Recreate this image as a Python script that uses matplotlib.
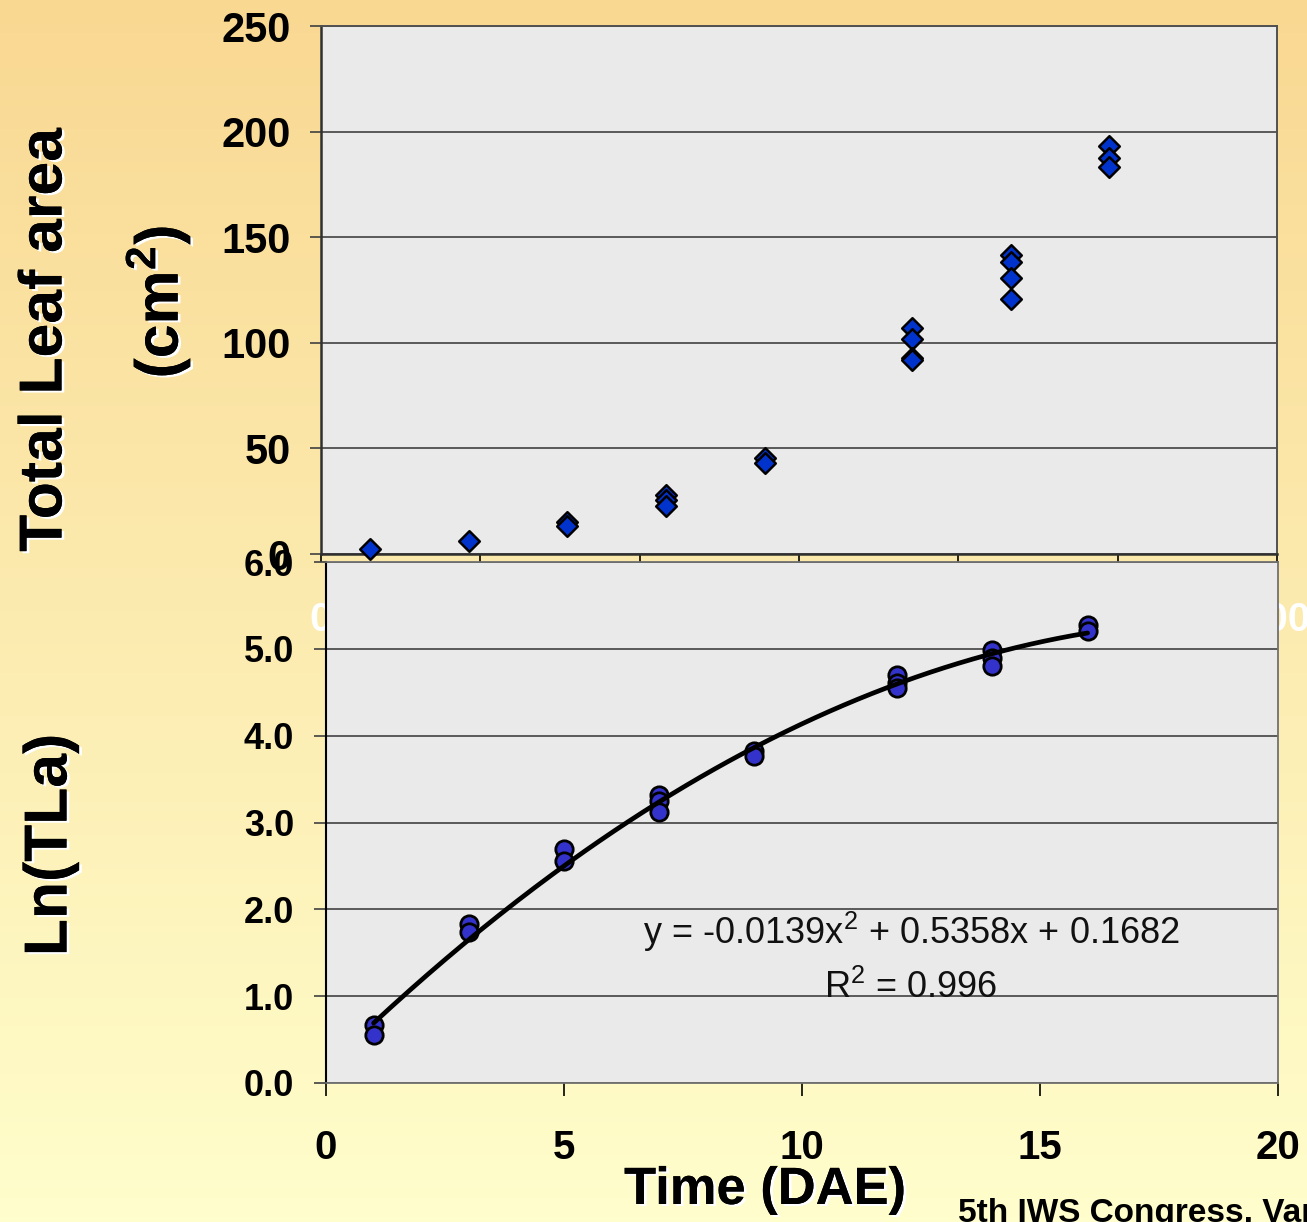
import numpy as np
import matplotlib
matplotlib.use("Agg")
import matplotlib.pyplot as plt
import matplotlib.patheffects as pe
from matplotlib import font_manager

# ---- data -------------------------------------------------------------
# Total leaf area (cm^2) measured on individual plants, by day after emergence
leaf_days = [1, 3, 5, 5, 7, 7, 7, 9, 9, 12, 12, 12, 12,
             14, 14, 14, 14, 16, 16, 16]
leaf_area = [2.3, 6.2, 15.2, 13.2, 27.7, 25.6, 22.6, 45.5, 43.1,
             107.0, 101.8, 92.8, 91.9, 141.6, 138.3, 130.7, 120.7,
             193.2, 187.5, 183.2]

# Natural log of total leaf area
ln_days = [1, 1, 3, 3, 5, 5, 7, 7, 7, 9, 9, 12, 12, 12,
           14, 14, 14, 16, 16]
ln_tla = [0.67, 0.55, 1.83, 1.74, 2.69, 2.56, 3.32, 3.25, 3.12,
          3.82, 3.77, 4.70, 4.61, 4.55, 4.99, 4.89, 4.80, 5.27, 5.21]

# Quadratic trend fitted to Ln(TLa)
fit_coef = [-0.0139, 0.5358, 0.1682]
fit_r2 = 0.996
fit_range = [1, 16]

top_yticks = [0, 50, 100, 150, 200, 250]
top_xtick_labels = ["0", "", "", "", "", "", "200"]
bottom_yticks = [0.0, 1.0, 2.0, 3.0, 4.0, 5.0, 6.0]
bottom_xticks = [0, 5, 10, 15, 20]

# ---- fonts ------------------------------------------------------------
installed = {f.name for f in font_manager.fontManager.ttflist}
BASE = "Liberation Sans" if "Liberation Sans" in installed else "DejaVu Sans"
NARROW = "Liberation Sans Narrow" if "Liberation Sans Narrow" in installed else BASE
title_scale = 1.0 if NARROW != BASE else 0.84

plt.rcParams["font.family"] = [BASE, "DejaVu Sans"]
plt.rcParams["mathtext.fontset"] = "custom"
plt.rcParams["mathtext.rm"] = BASE
plt.rcParams["mathtext.it"] = BASE + ":italic"
plt.rcParams["mathtext.bf"] = BASE + ":bold"

W, H = 1307, 1222
fig = plt.figure(figsize=(W / 100, H / 100), dpi=100)

# background: vertical gradient from warm orange to pale yellow
bg = fig.add_axes([0, 0, 1, 1], zorder=-10)
top_rgb = np.array([249, 216, 146]) / 255
bot_rgb = np.array([255, 254, 204]) / 255
t = np.linspace(0, 1, 256)[:, None]
grad = top_rgb[None, :] * (1 - t) + bot_rgb[None, :] * t
bg.imshow(grad[:, None, :].repeat(2, axis=1), aspect="auto",
          extent=[0, 1, 0, 1], origin="upper")
bg.set_axis_off()

GRID = "#5a5a5a"
FACE = "#eaeaea"


def px_rect(left, top, right, bottom):
    return [left / W, 1 - bottom / H, (right - left) / W, (bottom - top) / H]


# ---- upper panel: total leaf area --------------------------------------
ax1 = fig.add_axes(px_rect(321, 26, 1277, 554), zorder=1)
ax1.set_facecolor(FACE)
ax1.scatter(leaf_days, leaf_area, marker="D", s=10.5 ** 2, c="#0033cc",
            edgecolors="black", linewidths=1.8, zorder=3, clip_on=False)
ax1.set_ylim(0, 250)
ax1.set_xlim(0, 19.4)
ax1.set_yticks(top_yticks)
ax1.set_yticklabels([str(v) for v in top_yticks], fontsize=30,
                    fontweight="bold")
ax1.set_xticks(np.linspace(0, 19.4, 7))
ax1.set_xticklabels(top_xtick_labels, fontsize=29, fontweight="bold",
                    color="white")
ax1.tick_params(axis="y", length=8, width=1.2, color="#404040", pad=14)
ax1.tick_params(axis="x", length=6, width=1.2, color="black", pad=28)
ax1.grid(axis="y", color=GRID, lw=1.4)
ax1.set_axisbelow(True)
for side in ["top", "right"]:
    ax1.spines[side].set_color("#505050")
    ax1.spines[side].set_linewidth(1.4)
for side in ["left", "bottom"]:
    ax1.spines[side].set_color("#303030")
    ax1.spines[side].set_linewidth(1.8)

# ---- lower panel: Ln(TLa) -------------------------------------------------
ax2 = fig.add_axes(px_rect(326, 562, 1278, 1083), zorder=2)
ax2.set_facecolor(FACE)
ax2.scatter(ln_days, ln_tla, marker="o", s=12.5 ** 2, c="#3333cc",
            edgecolors="black", linewidths=2.0, zorder=3)
xs = np.linspace(fit_range[0], fit_range[1], 200)
ax2.plot(xs, np.polyval(fit_coef, xs), color="black", lw=3.4, zorder=4,
         solid_capstyle="round")
ax2.set_xlim(0, 20)
ax2.set_ylim(0, 6)
ax2.set_yticks(bottom_yticks)
ax2.set_yticklabels([f"{v:.1f}" for v in bottom_yticks], fontsize=26,
                    fontweight="bold")
ax2.set_xticks(bottom_xticks)
ax2.set_xticklabels([str(v) for v in bottom_xticks], fontsize=29,
                    fontweight="bold")
ax2.tick_params(axis="y", length=9, width=1.2, color="#404040", pad=14)
ax2.tick_params(axis="x", length=9, width=1.2, color="black", pad=24)
ax2.grid(axis="y", color=GRID, lw=1.4)
ax2.set_axisbelow(True)
for side in ["top", "right", "bottom"]:
    ax2.spines[side].set_color("#707070")
    ax2.spines[side].set_linewidth(1.3)
ax2.spines["left"].set_color("black")
ax2.spines["left"].set_linewidth(1.5)

a, b, c = fit_coef
ax2.text(911 / W, 1 - 932 / H,
         f"y = {a:.4f}x$^{{2}}$ + {b:.4f}x + {c:.4f}",
         transform=fig.transFigure, ha="center", va="center", fontsize=26,
         color="#111111", zorder=5)
ax2.text(911 / W, 1 - 988 / H, f"R$^{{2}}$ = {fit_r2:.3f}",
         transform=fig.transFigure, ha="center", va="center", fontsize=26,
         color="#111111", zorder=5)

# ---- axis titles with white drop edge ------------------------------------
shadow = [pe.withSimplePatchShadow(offset=(2, -1.5), shadow_rgbFace="white",
                                   alpha=1.0), pe.Normal()]
title_kw = dict(fontfamily=[NARROW, "DejaVu Sans"], fontweight="heavy",
                color="black", path_effects=shadow, ha="center", va="center")

fig.text(46 / W, 1 - 340 / H, "Total Leaf area", rotation=90,
         fontsize=52 * title_scale, **title_kw)
fig.text(158 / W, 1 - 302 / H, r"(cm$^{\mathbf{2}}$)", rotation=90,
         fontsize=52 * title_scale, **title_kw)
fig.text(51 / W, 1 - 845 / H, "Ln(TLa)", rotation=90,
         fontsize=52 * title_scale, **title_kw)
fig.text(765 / W, 1 - 1190 / H, "Time (DAE)",
         fontsize=45 * title_scale, **title_kw)

fig.text(958 / W, 1 - 1198 / H, "5th IWS Congress, Vancouver 2008",
         fontsize=24, fontweight="bold", ha="left", va="top", color="black")

fig.savefig("out.png", dpi=100)
